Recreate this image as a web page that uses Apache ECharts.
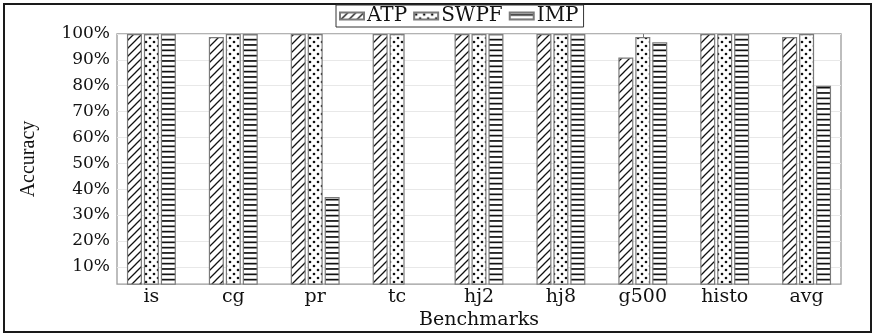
<!DOCTYPE html>
<html>
<head>
<meta charset="utf-8">
<script src="https://cdn.jsdelivr.net/npm/echarts@6/dist/echarts.min.js"></script>
<style>
  html, body { margin: 0; padding: 0; background: #fff; }
  #chart { width: 874px; height: 335px; }
</style>
</head>
<body>
<div id="chart"></div>
<script>
// Benchmarks and accuracy (%) per scheme
const categories = ['is', 'cg', 'pr', 'tc', 'hj2', 'hj8', 'g500', 'histo', 'avg'];
const atp  = [100, 98.8, 100, 100, 100, 100, 90.9, 100, 98.8];
const swpf = [100, 100, 100, 100, 100, 100, 98.8, 100, 100];
const imp  = [100, 100, 37, 0, 100, 100, 96.8, 100, 80];
const yTicks = [10, 20, 30, 40, 50, 60, 70, 80, 90, 100];

const FONT = '"DejaVu Serif", "Liberation Serif", serif';
const NAME_FONT = '"Liberation Serif", "Times New Roman", serif';

// Tiled fill patterns for the three schemes
function makeTile(w, h, draw) {
  const c = document.createElement('canvas');
  c.width = w; c.height = h;
  const ctx = c.getContext('2d');
  ctx.fillStyle = '#fff';
  ctx.fillRect(0, 0, w, h);
  draw(ctx, w, h);
  return { image: c, repeat: 'repeat' };
}
const hatch = makeTile(8, 8, (ctx, w, h) => {
  ctx.strokeStyle = '#111';
  ctx.lineWidth = 1.3;
  ctx.beginPath();
  ctx.moveTo(-1, h + 1); ctx.lineTo(w + 1, -1);
  ctx.moveTo(-1, 1); ctx.lineTo(1, -1);
  ctx.moveTo(w - 1, h + 1); ctx.lineTo(w + 1, h - 1);
  ctx.stroke();
});
const dots = makeTile(8, 8, (ctx) => {
  ctx.fillStyle = '#111';
  ctx.beginPath(); ctx.arc(2, 2, 1.3, 0, Math.PI * 2); ctx.fill();
  ctx.beginPath(); ctx.arc(6, 6, 1.3, 0, Math.PI * 2); ctx.fill();
});
const hlines = makeTile(4, 16, (ctx) => {
  ctx.fillStyle = '#111';
  ctx.fillRect(0, 1.5, 4, 1.7);
  ctx.fillRect(0, 6.8, 4, 1.7);
  ctx.fillRect(0, 12.1, 4, 1.7);
});

const xIdx = categories.map((_, i) => i);
const pairs = vals => vals.map((v, i) => [i, v]);

function barSeries(name, vals, fill) {
  return {
    name: name,
    type: 'bar',
    data: pairs(vals),
    barWidth: 15,
    barGap: '13%',
    itemStyle: { color: fill, borderColor: '#7a7a7a', borderWidth: 1.2 },
    emphasis: { disabled: true },
    z: 3
  };
}

const chart = echarts.init(document.getElementById('chart'), null, { renderer: 'canvas' });
chart.setOption({
  animation: false,
  backgroundColor: '#fff',
  graphic: [{
    type: 'rect',
    shape: { x: 4, y: 4, width: 867, height: 328 },
    style: { fill: 'none', stroke: '#1a1a1a', lineWidth: 2 },
    silent: true, z: 0
  }],
  legend: {
    top: 5,
    left: 336,
    padding: [1, 5, 1, 3],
    itemGap: 6,
    itemWidth: 24,
    itemHeight: 7,
    borderColor: '#333',
    borderWidth: 1,
    icon: 'rect',
    textStyle: { fontFamily: FONT, fontSize: 20, color: '#111', padding: [0, 0, 0, -2] },
    data: ['ATP', 'SWPF', 'IMP']
  },
  grid: {
    left: 117, right: 33, top: 34, bottom: 42,
    show: true, borderColor: '#9a9a9a', borderWidth: 1.3, backgroundColor: 'transparent'
  },
  xAxis: [{
    type: 'value',
    min: -0.42, max: 8.42,
    position: 'bottom',
    name: 'Benchmarks',
    nameLocation: 'middle',
    nameGap: 20,
    nameTextStyle: { fontFamily: FONT, fontSize: 19, color: '#111' },
    axisLine: { show: false },
    splitLine: { show: false },
    axisTick: { show: true, inside: true, length: 4, customValues: xIdx, lineStyle: { color: '#777' } },
    axisLabel: {
      customValues: xIdx,
      formatter: v => categories[Math.round(v)],
      fontFamily: FONT, fontSize: 19, color: '#111', margin: 3
    }
  }, {
    type: 'value',
    min: -0.42, max: 8.42,
    position: 'top',
    axisLine: { show: false },
    splitLine: { show: false },
    axisTick: { show: true, inside: true, length: 4, customValues: xIdx, lineStyle: { color: '#777' } },
    axisLabel: { show: false }
  }],
  yAxis: [{
    type: 'value',
    min: 3.3, max: 100,
    position: 'left',
    name: 'Accuracy',
    nameLocation: 'middle',
    nameGap: 78,
    nameTextStyle: { fontFamily: NAME_FONT, fontSize: 20, color: '#111' },
    axisLine: { show: false },
    axisTick: { show: true, inside: true, length: 5, customValues: yTicks, lineStyle: { color: '#999' } },
    splitLine: { show: true, lineStyle: { color: '#e8e8e8', width: 1 } },
    axisLabel: {
      customValues: yTicks,
      formatter: v => v + '%',
      fontFamily: FONT, fontSize: 17, color: '#111', margin: 7
    }
  }, {
    type: 'value',
    min: 3.3, max: 100,
    position: 'right',
    axisLine: { show: false },
    axisTick: { show: true, inside: true, length: 5, customValues: yTicks, lineStyle: { color: '#999' } },
    splitLine: { show: false },
    axisLabel: { show: false }
  }],
  series: [
    barSeries('ATP', atp, hatch),
    barSeries('SWPF', swpf, dots),
    barSeries('IMP', imp, hlines)
  ]
});
</script>
</body>
</html>
